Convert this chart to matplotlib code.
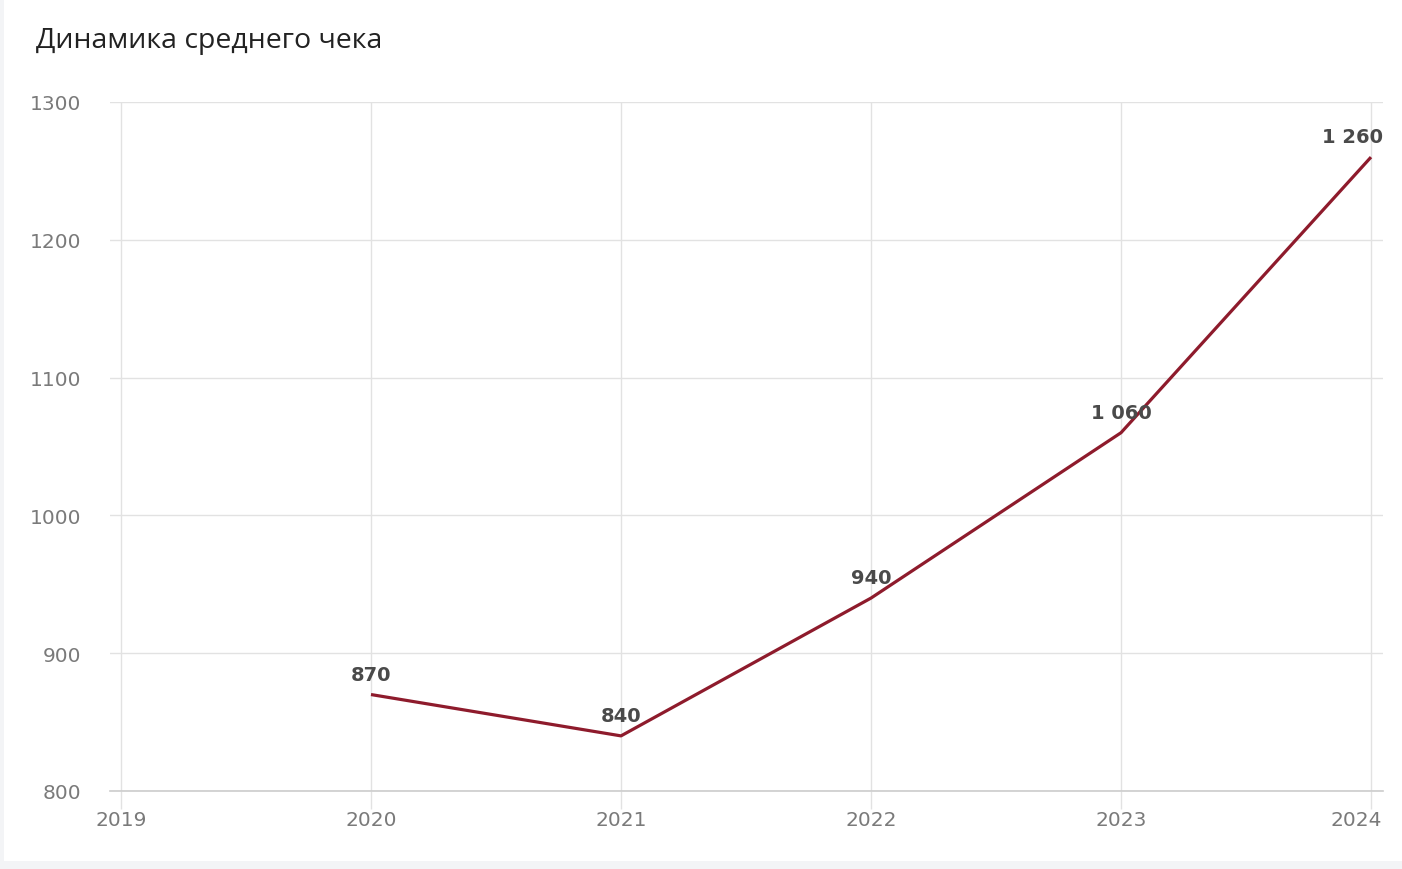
import matplotlib
matplotlib.use('Agg')
from matplotlib import pyplot as plt
from matplotlib.patches import Rectangle
from matplotlib.transforms import ScaledTranslation

# data
years = [2020, 2021, 2022, 2023, 2024]
avg_check = [870, 840, 940, 1060, 1260]
value_labels = ['870', '840', '940', '1 060', '1 260']
x_ticks = [2019, 2020, 2021, 2022, 2023, 2024]
y_ticks = [800, 900, 1000, 1100, 1200, 1300]

plt.rcParams['font.family'] = ['DejaVu Sans']

fig = plt.figure(figsize=(14.02, 8.70), dpi=100)
fig.patch.set_facecolor('#f3f4f6')
# white card behind everything
fig.patches.append(Rectangle((4/1402, 1-862/870), 1-4/1402, 862/870,
                             transform=fig.transFigure, facecolor='white',
                             edgecolor='none', zorder=-5))

fig.text(36/1402, 1-41/870, 'Динамика среднего чека', fontsize=20.5,
         color='#222222', va='center', ha='left', family=['Open Sans', 'DejaVu Sans'])

ax = fig.add_axes([110/1402, 1-792/870, (1383-110)/1402, (792-103)/870])
ax.set_facecolor('none')
ax.set_xlim(2019-11/250, 2024+12/250)
ax.set_ylim(800, 1300)

ax.plot(years, avg_check, color='#8e1b2c', lw=2.3, solid_capstyle='butt', zorder=3)

for x, y, t in zip(years, avg_check, value_labels):
    dx = -18 if x == 2024 else 0
    ax.annotate(t, (x, y), xytext=(dx*0.72, 14.5), textcoords='offset points',
                ha='center', va='center', fontsize=14, fontweight='bold',
                color='#4a4a4a', zorder=4)

ax.set_xticks(x_ticks)
ax.set_yticks(y_ticks)
ax.grid(True, color='#e2e2e2', lw=1)
ax.set_axisbelow(True)
for s in ['top', 'right', 'left']:
    ax.spines[s].set_visible(False)
ax.spines['bottom'].set_color('#cccccc')
ax.spines['bottom'].set_linewidth(1.2)
ax.tick_params(axis='y', length=0, pad=21, labelsize=14.5, labelcolor='#7a7a7a')
ax.tick_params(axis='x', length=13, width=1, color='#e2e2e2', pad=1,
               labelsize=14.5, labelcolor='#7a7a7a')

# keep the last x label inside the card
last = ax.get_xticklabels()[-1]
last.set_transform(last.get_transform() + ScaledTranslation(-15/100, 0, fig.dpi_scale_trans))

fig.savefig('out.png', dpi=100, facecolor=fig.get_facecolor())
